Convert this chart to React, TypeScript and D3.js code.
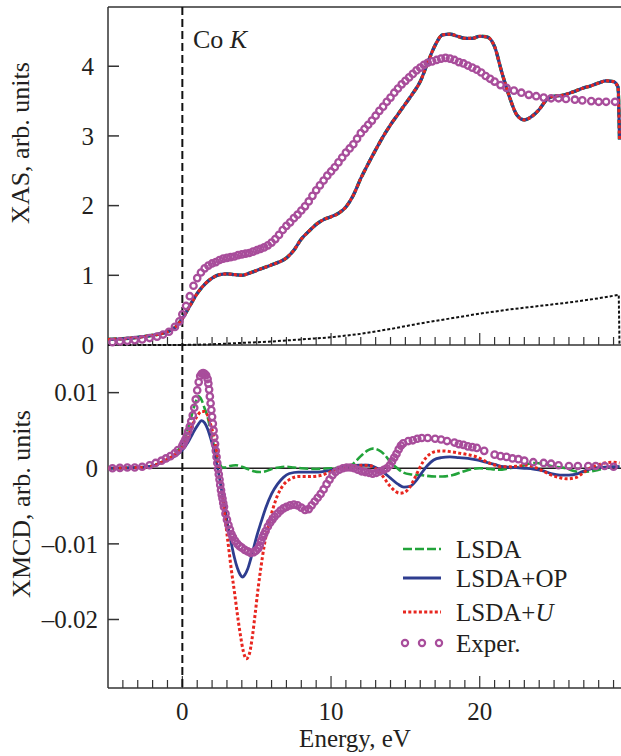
import React, { useEffect, useRef } from "react";
import * as d3 from "d3";

type Pt = [number, number];

// XAS, arb. units (energy in eV, value)
const xasCalc: Pt[] = [
  [-5, 0.08], [-4, 0.09], [-3, 0.11], [-2, 0.14], [-1.5, 0.16], [-1, 0.19], [-0.5, 0.25],
  [0, 0.38], [0.5, 0.56], [1, 0.74], [1.5, 0.87], [2, 0.96], [2.5, 1.01], [3, 1.02],
  [3.5, 1.01], [4, 1.0], [4.5, 1.03], [5, 1.07], [5.5, 1.11], [6, 1.15], [6.5, 1.19],
  [7, 1.25], [7.5, 1.36], [8, 1.52], [8.5, 1.63], [9, 1.73], [9.5, 1.8], [10, 1.84],
  [10.5, 1.89], [11, 1.98], [11.5, 2.15], [12, 2.39], [12.5, 2.6], [13, 2.8], [13.5, 2.99],
  [14, 3.16], [14.5, 3.31], [15, 3.46], [15.5, 3.61], [16, 3.78], [16.5, 4.05], [17, 4.3],
  [17.5, 4.45], [18, 4.46], [18.5, 4.43], [19, 4.4], [19.5, 4.4], [20, 4.43], [20.5, 4.42],
  [21, 4.28], [21.5, 3.9], [22, 3.56], [22.5, 3.3], [23, 3.23], [23.5, 3.28], [24, 3.38],
  [24.5, 3.52], [25, 3.57], [25.5, 3.58], [26, 3.61], [26.5, 3.65], [27, 3.69], [27.5, 3.72],
  [28, 3.76], [28.5, 3.79], [29, 3.78], [29.3, 3.7], [29.4, 2.95],
];

const xasBackground: Pt[] = [
  [-5, 0], [0, 0], [2, 0.01], [4, 0.03], [6, 0.05], [8, 0.08], [10, 0.11], [12, 0.16],
  [14, 0.23], [16, 0.31], [18, 0.38], [20, 0.45], [22, 0.51], [24, 0.56], [26, 0.61],
  [28, 0.67], [29.35, 0.72], [29.4, 0],
];

const xasExper: Pt[] = [
  [-4.7, 0.04], [-4.2, 0.05], [-3.7, 0.06], [-3.2, 0.07], [-2.7, 0.08], [-2.2, 0.1],
  [-1.7, 0.12], [-1.3, 0.15], [-0.9, 0.19], [-0.5, 0.26], [-0.2, 0.34],
  [0, 0.44], [0.25, 0.56], [0.5, 0.7], [0.75, 0.85], [1, 0.96], [1.25, 1.04], [1.5, 1.1],
  [1.75, 1.14], [2, 1.17], [2.25, 1.19], [2.5, 1.22], [2.75, 1.24], [3, 1.25], [3.25, 1.26],
  [3.5, 1.27], [3.75, 1.29], [4, 1.3], [4.25, 1.31], [4.5, 1.32], [4.75, 1.34], [5, 1.36],
  [5.25, 1.38], [5.5, 1.4], [5.75, 1.43], [6, 1.47], [6.25, 1.52], [6.5, 1.58], [6.75, 1.65],
  [7, 1.71], [7.25, 1.76], [7.5, 1.82], [7.75, 1.87], [8, 1.93], [8.25, 1.99], [8.5, 2.06],
  [8.75, 2.14], [9, 2.22], [9.25, 2.29], [9.5, 2.36], [9.75, 2.43], [10, 2.49], [10.25, 2.55],
  [10.5, 2.62], [10.75, 2.69], [11, 2.76], [11.25, 2.82], [11.5, 2.88], [11.75, 2.96],
  [12, 3.04], [12.25, 3.1], [12.5, 3.16], [12.75, 3.22], [13, 3.29], [13.25, 3.36],
  [13.5, 3.42], [13.75, 3.49], [14, 3.55], [14.25, 3.62], [14.5, 3.68], [14.75, 3.74],
  [15, 3.79], [15.25, 3.84], [15.5, 3.89], [15.75, 3.94], [16, 3.98], [16.25, 4.02],
  [16.5, 4.05], [16.8, 4.07], [17.1, 4.09], [17.4, 4.11], [17.7, 4.12], [18, 4.11],
  [18.3, 4.09], [18.6, 4.06], [18.9, 4.04], [19.2, 4.01], [19.5, 3.98], [19.8, 3.95],
  [20.1, 3.91], [20.4, 3.86], [20.7, 3.82], [21, 3.78], [21.4, 3.73], [21.8, 3.69],
  [22.3, 3.65], [22.8, 3.62], [23.3, 3.59], [23.8, 3.57], [24.3, 3.55], [24.8, 3.54],
  [25.3, 3.54], [25.8, 3.53], [26.4, 3.52], [26.9, 3.51], [27.5, 3.5], [28, 3.49],
  [28.5, 3.49], [29.1, 3.49],
];

// XMCD values are in units of 10^-3
const xmcdLsda: Pt[] = [
  [-5, 0], [-3, 0.1], [-2, 0.3], [-1.5, 0.7], [-1, 1.2], [-0.5, 1.9], [0, 3.3], [0.3, 4.8],
  [0.6, 6.8], [0.9, 8.8], [1.1, 9.5], [1.3, 9.0], [1.5, 7.9], [1.7, 6.8], [1.9, 5.0],
  [2.1, 3.2], [2.3, 1.6], [2.5, 0.6], [2.7, 0.1], [2.9, 0.1], [3.2, 0.3], [3.6, 0.4],
  [4, 0.2], [4.4, -0.1], [4.8, -0.4], [5.2, -0.5], [5.6, -0.4], [6, -0.1], [6.5, 0.1],
  [7, 0.2], [7.5, 0.1], [8, 0], [9, -0.1], [10, 0], [11, 0.1], [11.5, 0.6], [12, 1.6],
  [12.5, 2.4], [12.8, 2.6], [13.2, 2.4], [13.6, 1.8], [14, 0.8], [14.4, 0.1], [14.8, -0.5],
  [15.3, -0.8], [16, -0.9], [17, -1.1], [17.5, -1.1], [18.2, -0.9], [18.8, -0.5],
  [19.5, -0.1], [20, 0], [20.7, -0.1], [21.3, -0.2], [22, 0], [22.7, 0.2], [23.3, 0.6],
  [23.8, 0.7], [24.4, 0.5], [25, 0.2], [25.8, 0], [26.4, -0.4], [26.9, -0.5], [27.5, -0.4],
  [28, -0.2], [28.6, 0.1], [29.4, 0.2],
];

const xmcdOp: Pt[] = [
  [-5, 0], [-3, 0.1], [-2, 0.3], [-1.5, 0.7], [-1, 1.1], [-0.5, 1.6], [0, 2.4], [0.4, 3.5],
  [0.7, 4.6], [1, 5.6], [1.3, 6.3], [1.5, 6.0], [1.7, 5.2], [1.9, 4.0], [2.1, 2.6],
  [2.3, 0.8], [2.5, -1.3], [2.7, -3.6], [2.9, -5.8], [3.1, -8.0], [3.3, -10.0], [3.5, -11.8],
  [3.7, -13.2], [3.9, -14.1], [4.05, -14.4], [4.2, -14.1], [4.4, -13.3], [4.6, -12.0],
  [4.8, -10.5], [5, -9.0], [5.3, -7.1], [5.6, -5.3], [6, -3.4], [6.4, -2.1], [6.8, -1.2],
  [7.2, -0.7], [7.8, -0.5], [8.5, -0.5], [9.2, -0.5], [9.9, -0.3], [10.6, 0], [11.3, 0.3],
  [11.9, 0.4], [12.5, 0.4], [13, 0.1], [13.5, -0.5], [14, -1.3], [14.5, -2.1], [14.9, -2.5],
  [15.3, -2.4], [15.7, -1.7], [16.1, -0.6], [16.5, 0.4], [16.9, 1.1], [17.4, 1.4], [18, 1.5],
  [18.6, 1.4], [19.2, 1.3], [19.8, 1.1], [20.4, 0.8], [21, 0.5], [21.6, 0.2], [22.3, 0.1],
  [23, 0], [23.6, -0.1], [24.2, -0.3], [24.8, -0.7], [25.4, -0.9], [26, -0.9], [26.6, -0.7],
  [27.1, -0.3], [27.6, 0], [28.2, 0.1], [28.9, 0.2], [29.4, 0.2],
];

const xmcdU: Pt[] = [
  [-5, 0], [-3, 0.1], [-2, 0.3], [-1.5, 0.7], [-1, 1.2], [-0.5, 1.8], [0, 2.8], [0.4, 4.3],
  [0.7, 5.8], [1, 6.9], [1.3, 7.5], [1.5, 7.5], [1.7, 7.0], [1.9, 5.8], [2.1, 4.3],
  [2.3, 2.3], [2.5, -0.5], [2.7, -3.6], [2.9, -7.0], [3.1, -10.3], [3.3, -13.5],
  [3.5, -16.3], [3.7, -19.3], [3.9, -22.0], [4.1, -24.2], [4.3, -25.2], [4.5, -24.6],
  [4.7, -22.4], [4.9, -19.2], [5.1, -15.8], [5.3, -12.9], [5.5, -10.3], [5.8, -7.5],
  [6.1, -5.3], [6.4, -3.6], [6.8, -2.2], [7.2, -1.5], [7.8, -1.1], [8.5, -1.1], [9.2, -1.0],
  [9.8, -0.6], [10.4, -0.1], [11, 0.2], [11.6, 0.3], [12.2, 0.4], [12.7, 0.3], [13.1, -0.2],
  [13.5, -1.1], [13.9, -2.2], [14.3, -3.0], [14.6, -3.3], [14.9, -3.2], [15.3, -2.5],
  [15.6, -1.4], [15.9, -0.2], [16.2, 0.9], [16.6, 1.8], [17, 2.2], [17.4, 2.3], [18, 2.2],
  [18.6, 2.0], [19.2, 1.8], [19.8, 1.5], [20.3, 1.0], [20.9, 0.5], [21.5, 0.2], [22, 0.2],
  [22.6, 0.3], [23.1, 0.4], [23.6, 0.2], [24.1, -0.2], [24.7, -0.8], [25.3, -1.2],
  [25.9, -1.4], [26.5, -1.2], [26.9, -0.7], [27.4, 0], [27.9, 0.4], [28.4, 0.7], [28.9, 0.8],
  [29.4, 0.7],
];

const xmcdExper: Pt[] = [
  [-4.7, 0], [-4.2, 0.05], [-3.7, 0.1], [-3.2, 0.1], [-2.7, 0.2], [-2.2, 0.4], [-1.8, 0.7],
  [-1.4, 1.0], [-1.1, 1.3], [-0.8, 1.6], [-0.5, 2.0], [-0.3, 2.4],
  [0, 3.0], [0.1, 3.4], [0.2, 3.8], [0.3, 4.3], [0.4, 4.9], [0.5, 5.5], [0.6, 6.2],
  [0.7, 7.0], [0.8, 8.0], [0.9, 9.1], [1, 10.3], [1.1, 11.4], [1.2, 12.2], [1.3, 12.5],
  [1.4, 12.6], [1.5, 12.5], [1.6, 12.3], [1.7, 11.8], [1.75, 11.2], [1.8, 10.4], [1.85, 9.5],
  [1.9, 8.6], [1.95, 7.7], [2, 6.8], [2.05, 5.9], [2.1, 5.0], [2.15, 4.1], [2.2, 3.2],
  [2.25, 2.3], [2.3, 1.5], [2.35, 0.7], [2.4, -0.1], [2.45, -0.8], [2.5, -1.5], [2.55, -2.2],
  [2.6, -2.9], [2.65, -3.5], [2.7, -4.0], [2.75, -4.6], [2.8, -5.1], [2.9, -6.0], [3, -6.8],
  [3.1, -7.5], [3.2, -8.1], [3.3, -8.7], [3.4, -9.1], [3.55, -9.6], [3.7, -10.0],
  [3.85, -10.3], [4, -10.5], [4.2, -10.8], [4.4, -11.0], [4.6, -11.2], [4.8, -11.1],
  [4.95, -10.9], [5.1, -10.6], [5.2, -10.2], [5.3, -9.6], [5.4, -9.1], [5.5, -8.7],
  [5.6, -8.3], [5.75, -7.7], [5.9, -7.2], [6.05, -6.8], [6.2, -6.4], [6.4, -6.0], [6.6, -5.6],
  [6.8, -5.3], [7, -5.1], [7.25, -4.9], [7.5, -4.8], [7.75, -4.9], [8, -5.2], [8.25, -5.5],
  [8.5, -5.4], [8.7, -4.9], [8.9, -4.4], [9.1, -3.9], [9.3, -3.4], [9.5, -2.8], [9.7, -2.1],
  [9.9, -1.5], [10.1, -0.9], [10.3, -0.5], [10.55, -0.2], [10.8, 0], [11.05, 0.1],
  [11.3, 0.1], [11.55, 0], [11.8, -0.2], [12.05, -0.4], [12.3, -0.5], [12.55, -0.6],
  [12.8, -0.7], [13.05, -0.6], [13.3, -0.4], [13.55, -0.2], [13.75, 0.0], [13.95, 0.4],
  [14.1, 0.9], [14.25, 1.4], [14.4, 1.9], [14.55, 2.5], [14.7, 3.0], [14.85, 3.3],
  [15.2, 3.6], [15.5, 3.7], [15.8, 3.9], [16.1, 4.0], [16.5, 4.0], [17, 3.9], [17.4, 3.8],
  [17.8, 3.6], [18.3, 3.4], [18.6, 3.2], [18.9, 3.1], [19.2, 2.9], [19.5, 2.8], [19.8, 2.7],
  [20.3, 2.3], [21, 1.8], [21.4, 1.6], [21.8, 1.5], [22.2, 1.3], [22.6, 1.2], [23, 1.0],
  [23.6, 0.8], [24.3, 0.7], [24.8, 0.6], [25.3, 0.4], [26, 0.3], [26.6, 0.3], [27.3, 0.3],
  [27.8, 0.3], [28.4, 0.3], [29, 0.2],
];

const xasTicks = [0, 1, 2, 3, 4];
const xmcdTicks = [10, 0, -10, -20];
const xmcdTickLabels = ["0.01", "0", "\u20130.01", "\u20130.02"];
const energyTicks = [0, 10, 20];
const legendNames = ["LSDA", "LSDA+OP", "LSDA+", "Exper."];

const GREEN = "#22a33a";
const BLUE = "#2e3d8f";
const RED = "#e8261f";
const MAGENTA = "#a84d9b";
const INK = "#231f20";
const FONT = "Liberation Serif, Times New Roman, DejaVu Serif, serif";

const App = () => {
  const svgRef = useRef<SVGSVGElement | null>(null);

  useEffect(() => {
    const width = 621, height = 756;
    const left = 108, right = 621;
    const top1 = 7, mid = 345, bottom2 = 688;

    const svg = d3.select(svgRef.current).attr("width", width).attr("height", height);
    svg.selectAll("*").remove();

    const x = d3.scaleLinear().domain([-5, 29.4]).range([left, 619.5]);
    const yTop = d3.scaleLinear().domain([0, 4.85]).range([mid, top1]);
    const yBot = d3.scaleLinear().domain([-29.06, 16.3]).range([bottom2, mid]);

    // frame
    const frame = svg.append("g").attr("stroke", "#333").attr("stroke-width", 1.5);
    frame.append("line").attr("x1", left).attr("x2", right).attr("y1", top1).attr("y2", top1);
    frame.append("line").attr("x1", left).attr("x2", right).attr("y1", mid).attr("y2", mid);
    frame.append("line").attr("x1", left).attr("x2", right).attr("y1", bottom2).attr("y2", bottom2);
    frame.append("line").attr("x1", left).attr("x2", left).attr("y1", top1).attr("y2", bottom2);

    // energy ticks on both panels
    const minor = d3.range(-4, 30);
    [mid, bottom2].forEach(yb => {
      frame.selectAll(null)
        .data(minor)
        .enter()
        .append("line")
        .attr("x1", d => x(d))
        .attr("x2", d => x(d))
        .attr("y1", yb)
        .attr("y2", d => yb - (d % 10 === 0 ? 12 : 8))
        .attr("stroke-width", 1.2);
    });

    // y ticks
    frame.selectAll(null).data(xasTicks).enter().append("line")
      .attr("x1", left).attr("x2", left + 11)
      .attr("y1", d => yTop(d)).attr("y2", d => yTop(d));
    frame.selectAll(null).data(xmcdTicks).enter().append("line")
      .attr("x1", left).attr("x2", left + 11)
      .attr("y1", d => yBot(d)).attr("y2", d => yBot(d));

    const text = svg.append("g").style("font-family", FONT).style("font-size", "25px").attr("fill", INK);

    text.selectAll(null).data(xasTicks).enter().append("text")
      .attr("x", 94).attr("y", d => yTop(d)).attr("dy", "0.35em")
      .attr("text-anchor", "end").text(d => d);
    text.selectAll(null).data(xmcdTicks).enter().append("text")
      .attr("x", 98).attr("y", d => yBot(d)).attr("dy", "0.35em")
      .attr("text-anchor", "end").text((d, i) => xmcdTickLabels[i]);
    text.selectAll(null).data(energyTicks).enter().append("text")
      .attr("x", d => x(d)).attr("y", 720)
      .attr("text-anchor", "middle").text(d => d);

    text.append("text").attr("x", 355).attr("y", 747)
      .attr("text-anchor", "middle").text("Energy, eV");
    text.append("text").attr("transform", "translate(29,143) rotate(-90)")
      .attr("text-anchor", "middle").style("font-size", "26px").text("XAS, arb. units");
    text.append("text").attr("transform", "translate(30,504) rotate(-90)")
      .attr("text-anchor", "middle").style("font-size", "26px").text("XMCD, arb. units");

    const coK = text.append("text").attr("x", 193).attr("y", 48).style("font-size", "26px");
    coK.append("tspan").text("Co ");
    coK.append("tspan").style("font-style", "italic").text("K");

    // zero line of XMCD and edge position
    svg.append("line")
      .attr("x1", left).attr("x2", right).attr("y1", yBot(0)).attr("y2", yBot(0))
      .attr("stroke", INK).attr("stroke-width", 1.5);
    svg.append("line")
      .attr("x1", x(0)).attr("x2", x(0)).attr("y1", top1).attr("y2", bottom2)
      .attr("stroke", "#111").attr("stroke-width", 2).attr("stroke-dasharray", "8,4");

    const lineTop = d3.line<Pt>().x(d => x(d[0])).y(d => yTop(d[1])).curve(d3.curveMonotoneX);
    const lineBot = d3.line<Pt>().x(d => x(d[0])).y(d => yBot(d[1])).curve(d3.curveMonotoneX);

    // background of XAS
    svg.append("path")
      .attr("d", d3.line<Pt>().x(d => x(d[0])).y(d => yTop(d[1]))(xasBackground))
      .attr("fill", "none").attr("stroke", "#111").attr("stroke-width", 2)
      .attr("stroke-dasharray", "3,2");

    const styles = [
      { color: GREEN, width: 2.6, dash: "9,3" },
      { color: BLUE, width: 2.8, dash: null },
      { color: RED, width: 3, dash: "3,2.3" },
    ];
    const xmcdSeries = [xmcdLsda, xmcdOp, xmcdU];

    styles.forEach((s, i) => {
      svg.append("path")
        .attr("d", lineTop(xasCalc))
        .attr("fill", "none").attr("stroke", s.color).attr("stroke-width", s.width + 0.4 * (2 - i))
        .attr("stroke-dasharray", s.dash);
      svg.append("path")
        .attr("d", lineBot(xmcdSeries[i]))
        .attr("fill", "none").attr("stroke", s.color).attr("stroke-width", s.width)
        .attr("stroke-dasharray", s.dash);
    });

    // experiment
    svg.append("g").selectAll("circle").data(xasExper).enter().append("circle")
      .attr("cx", d => x(d[0])).attr("cy", d => yTop(d[1])).attr("r", 3.2)
      .attr("fill", "none").attr("stroke", MAGENTA).attr("stroke-width", 2.3);
    svg.append("g").selectAll("circle").data(xmcdExper).enter().append("circle")
      .attr("cx", d => x(d[0])).attr("cy", d => yBot(d[1])).attr("r", 3.2)
      .attr("fill", "none").attr("stroke", MAGENTA).attr("stroke-width", 2.3);

    // legend
    const legendY = [549, 578, 612, 643];
    const lg = svg.append("g");
    styles.forEach((s, i) => {
      lg.append("line")
        .attr("x1", 403).attr("x2", 441).attr("y1", legendY[i]).attr("y2", legendY[i])
        .attr("stroke", s.color).attr("stroke-width", s.width).attr("stroke-dasharray", s.dash);
    });
    [405, 422, 439].forEach(cx => {
      lg.append("circle").attr("cx", cx).attr("cy", legendY[3]).attr("r", 3.1)
        .attr("fill", "none").attr("stroke", MAGENTA).attr("stroke-width", 2.2);
    });
    legendNames.forEach((name, i) => {
      const t = lg.append("text")
        .attr("x", 456).attr("y", legendY[i]).attr("dy", "0.35em")
        .style("font-family", FONT).style("font-size", "25px").attr("fill", INK);
      t.append("tspan").text(name);
      if (i === 2) t.append("tspan").style("font-style", "italic").text("U");
    });
  }, []);

  return (
    <div style={{ position: "absolute", left: 0, top: 0 }}>
      <svg ref={svgRef} style={{ display: "block", background: "#fff" }}></svg>
    </div>
  );
};

export default App;
